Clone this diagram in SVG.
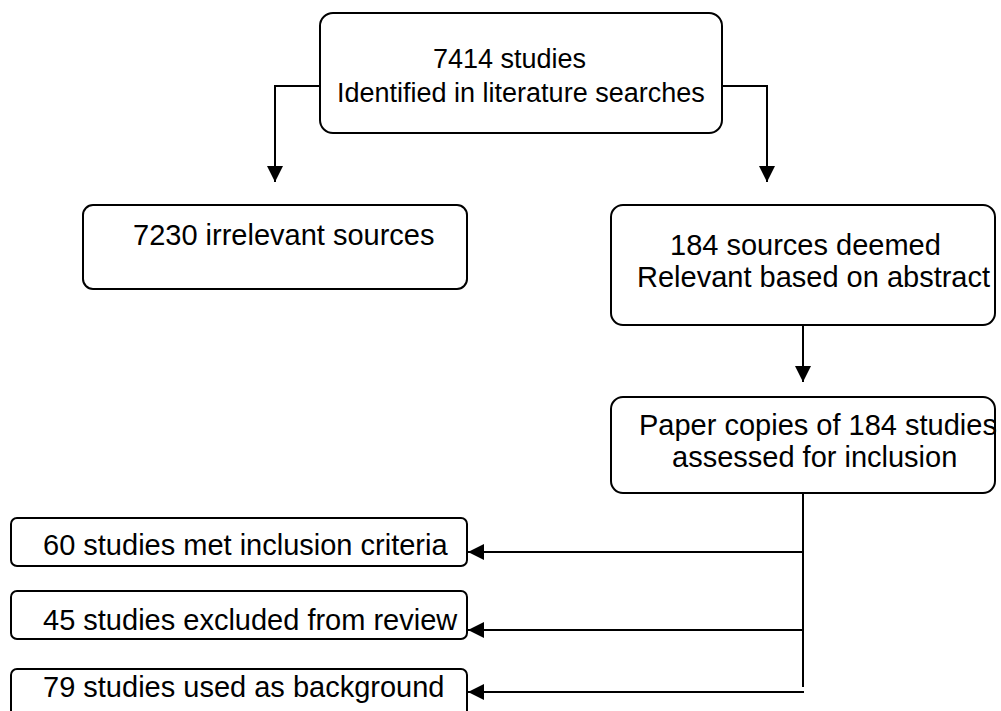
<svg xmlns="http://www.w3.org/2000/svg" width="1001" height="711" viewBox="0 0 1001 711">
<style>
.box{fill:#fff;stroke:#000;stroke-width:2}
.t{font-family:"Liberation Sans",Arial,sans-serif;font-size:29px;fill:#000}
.t27{font-size:27px}
.c{fill:none;stroke:#000;stroke-width:2}
</style>
<defs>
<marker id="ah" markerUnits="userSpaceOnUse" markerWidth="16" markerHeight="16" refX="16" refY="8" orient="auto">
<path d="M0,0 L16,8 L0,16 z" fill="#000"/>
</marker>
</defs>
<rect width="1001" height="711" fill="#fff"/>
<g id="connectors">
<path class="c" d="M320,86 H275 V182" marker-end="url(#ah)"/>
<path class="c" d="M722,86 H767 V182" marker-end="url(#ah)"/>
<path class="c" d="M803,325 V382" marker-end="url(#ah)"/>
<path class="c" d="M803,493 V687"/>
<path class="c" d="M803,552 H468" marker-end="url(#ah)"/>
<path class="c" d="M803,630 H468" marker-end="url(#ah)"/>
<path class="c" d="M804,692 H468" marker-end="url(#ah)"/>
</g>
<g id="n_identified">
<rect class="box" x="320" y="13" width="402" height="120" rx="13"/>
<text class="t t27" x="433" y="68">7414 studies</text>
<text class="t t27" x="337" y="102">Identified in literature searches</text>
</g>
<g id="n_irrelevant">
<rect class="box" x="83" y="205" width="384" height="84" rx="10"/>
<text class="t" x="133" y="245">7230 irrelevant sources</text>
</g>
<g id="n_relevant">
<rect class="box" x="611" y="205" width="384" height="120" rx="12"/>
<text class="t" x="670" y="255">184 sources deemed</text>
<text class="t" x="637" y="287">Relevant based on abstract</text>
</g>
<g id="n_paper">
<rect class="box" x="611" y="397" width="384" height="96" rx="12"/>
<text class="t" x="639" y="435">Paper copies of 184 studies</text>
<text class="t" x="672" y="467">assessed for inclusion</text>
</g>
<g id="n_included">
<rect class="box" x="11" y="518" width="456" height="48" rx="6"/>
<text class="t" x="43" y="555">60 studies met inclusion criteria</text>
</g>
<g id="n_excluded">
<rect class="box" x="11" y="591" width="456" height="48" rx="6"/>
<text class="t" x="43" y="630">45 studies excluded from review</text>
</g>
<g id="n_background">
<rect class="box" x="11" y="669" width="456" height="60" rx="6"/>
<text class="t" x="43" y="697">79 studies used as background</text>
</g>
</svg>
